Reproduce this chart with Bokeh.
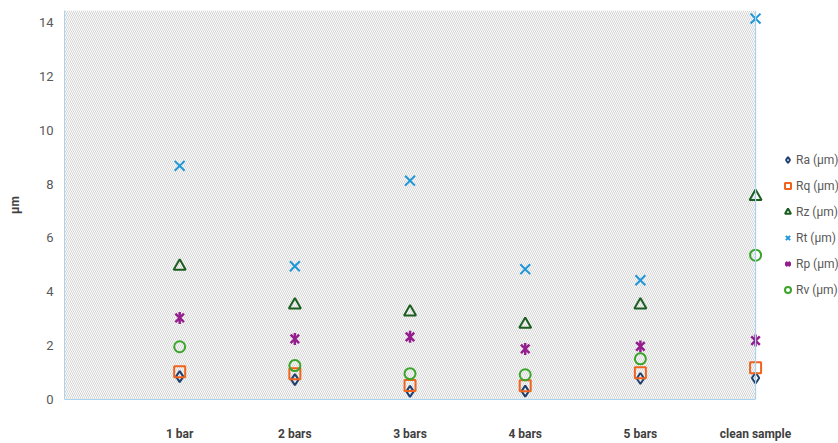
import math
from bokeh.plotting import figure
from bokeh.models import Legend, LegendItem, FixedTicker, Span, ColumnDataSource
from bokeh.embed import file_html
from bokeh.resources import INLINE

categories = ["1 bar", "2 bars", "3 bars", "4 bars", "5 bars", "clean sample"]
x_pos = [1, 2, 3, 4, 5, 6]
Ra = [0.85, 0.74, 0.30, 0.31, 0.78, 0.80]
Rq = [1.03, 0.96, 0.52, 0.51, 0.99, 1.18]
Rz = [4.95, 3.51, 3.25, 2.79, 3.51, 7.54]
Rt = [8.68, 4.95, 8.13, 4.84, 4.43, 14.15]
Rp = [3.03, 2.25, 2.33, 1.88, 1.97, 2.19]
Rv = [1.96, 1.26, 0.96, 0.92, 1.51, 5.36]
y_ticks = [0, 2, 4, 6, 8, 10, 12, 14]

FONT = "Roboto"
Y_MAX = 14.45

p = figure(width=838, height=443, output_backend="svg", toolbar_location=None,
           x_range=(0, 6.72), y_range=(0, Y_MAX),
           min_border_left=64, min_border_right=0, min_border_top=10, min_border_bottom=0)
p.outline_line_color = None
p.xgrid.visible = False
p.ygrid.visible = False
p.background_fill_color = "white"

# hatched plot area
p.quad(left=[0], right=[6], bottom=[0], top=[Y_MAX], fill_color="white",
       line_color=None, hatch_pattern="\\", hatch_color="#c8c8c8",
       hatch_scale=4, hatch_weight=0.8)
p.add_layout(Span(location=6, dimension="height", line_color="#a9d4f0", line_width=1.2))

src = ColumnDataSource(dict(x=x_pos, Ra=Ra, Rq=Rq, Rz=Rz, Rt=Rt, Rp=Rp, Rv=Rv))

r_ra = p.scatter("x", "Ra", source=src, marker="diamond", size=11, fill_color=None,
                 line_color="#1f3f6e", line_width=2)
r_rq = p.scatter("x", "Rq", source=src, marker="square", size=11, fill_color=None,
                 line_color="#f0641e", line_width=2)
r_rz = p.scatter("x", "Rz", source=src, marker="triangle", size=12, fill_color=None,
                 line_color="#1b5e20", line_width=2)
r_rt = p.scatter("x", "Rt", source=src, marker="x", size=14,
                 line_color="#1e96d8", line_width=2)
r_rp1 = p.scatter("x", "Rp", source=src, marker="x", size=12,
                  line_color="#951e8e", line_width=2.5)
r_rp2 = p.scatter("x", "Rp", source=src, marker="dash", size=12, angle=math.pi / 2,
                  line_color="#951e8e", line_width=2.5)
r_rv = p.scatter("x", "Rv", source=src, marker="circle", size=11, fill_color=None,
                 line_color="#3aa52a", line_width=2)

# axes
p.yaxis.ticker = FixedTicker(ticks=y_ticks)
p.yaxis.axis_line_color = "#a9d4f0"
p.yaxis.major_tick_line_color = None
p.yaxis.minor_tick_line_color = None
p.yaxis.major_tick_out = 0
p.yaxis.major_tick_in = 0
p.yaxis.major_label_text_font = FONT
p.yaxis.major_label_text_font_size = "13px"
p.yaxis.major_label_text_color = "#595959"
p.yaxis.major_label_standoff = 11
p.yaxis.axis_label = "µm"
p.yaxis.axis_label_text_font = FONT
p.yaxis.axis_label_text_font_size = "12px"
p.yaxis.axis_label_text_font_style = "bold"
p.yaxis.axis_label_text_color = "#404040"
p.yaxis.axis_label_standoff = 14

p.xaxis.ticker = FixedTicker(ticks=x_pos)
p.xaxis.major_label_overrides = {x: c for x, c in zip(x_pos, categories)}
p.xaxis.bounds = (0, 6)
p.xaxis.axis_line_color = "#a9d4f0"
p.xaxis.major_tick_line_color = None
p.xaxis.minor_tick_line_color = None
p.xaxis.major_tick_out = 0
p.xaxis.major_tick_in = 0
p.xaxis.major_label_text_font = FONT
p.xaxis.major_label_text_font_size = "12px"
p.xaxis.major_label_text_font_style = "bold"
p.xaxis.major_label_text_color = "#404040"
p.xaxis.major_label_standoff = 27

legend = Legend(items=[
    LegendItem(label="Ra (µm)", renderers=[r_ra]),
    LegendItem(label="Rq (µm)", renderers=[r_rq]),
    LegendItem(label="Rz (µm)", renderers=[r_rz]),
    LegendItem(label="Rt (µm)", renderers=[r_rt]),
    LegendItem(label="Rp (µm)", renderers=[r_rp1, r_rp2]),
    LegendItem(label="Rv (µm)", renderers=[r_rv]),
], location=(716, 101), orientation="vertical")
legend.padding = 0
legend.margin = 0
legend.spacing = 9
legend.glyph_height = 17
legend.glyph_width = 15
legend.label_height = 17
legend.label_standoff = 1
legend.label_text_font = FONT
legend.label_text_font_size = "12px"
legend.label_text_color = "#595959"
legend.border_line_color = None
legend.background_fill_alpha = 0
p.add_layout(legend, "center")

open("out.html", "w").write(file_html(p, INLINE))
